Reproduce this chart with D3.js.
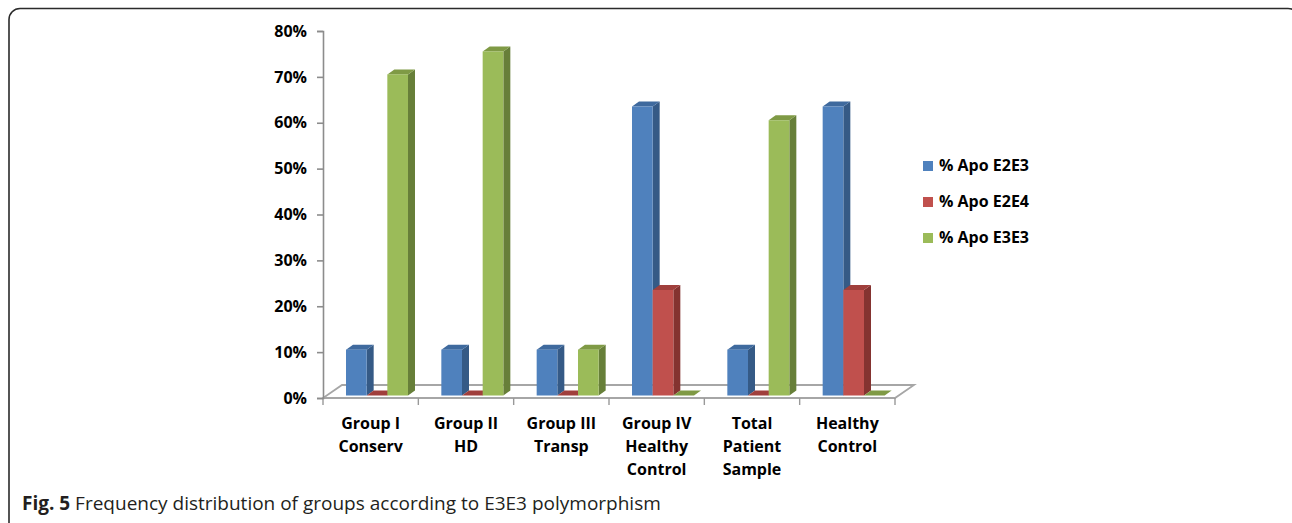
<!DOCTYPE html>
<html>
<head>
<meta charset="utf-8">
<script src="https://cdn.jsdelivr.net/npm/d3@7"></script>
<style>
  html, body { margin: 0; padding: 0; background: #fff; }
  svg { display: block; }
</style>
</head>
<body>
<svg id="chart" width="1292" height="523"></svg>
<script>
// Category labels (one entry per line of the label)
const categories = [
  ["Group I", "Conserv"],
  ["Group II", "HD"],
  ["Group III", "Transp"],
  ["Group IV", "Healthy", "Control"],
  ["Total", "Patient", "Sample"],
  ["Healthy", "Control"]
];
const seriesNames = ["% Apo E2E3", "% Apo E2E4", "% Apo E3E3"];
const apoE2E3 = [10, 10, 10, 63, 10, 63];
const apoE2E4 = [0, 0, 0, 23, 0, 23];
const apoE3E3 = [70, 75, 10, 0, 60, 0];
const yTicks = [0, 10, 20, 30, 40, 50, 60, 70, 80];
const captionBold = "Fig. 5";
const captionText = " Frequency distribution of groups according to E3E3 polymorphism";

const seriesValues = [apoE2E3, apoE2E4, apoE3E3];
const colors = {
  front: ["#4F81BD", "#C0504D", "#9BBB59"],
  top:   ["#3F6A9E", "#A03F3C", "#7F9A45"],
  side:  ["#355A86", "#843330", "#677F39"]
};

const svg = d3.select("#chart");
const font = "'Open Sans', 'Liberation Sans', sans-serif";

// Rounded frame around the figure
svg.append("rect")
  .attr("x", 9).attr("y", 8.5)
  .attr("width", 1290).attr("height", 526)
  .attr("rx", 11).attr("ry", 11)
  .attr("fill", "none").attr("stroke", "#2b2b2b").attr("stroke-width", 1.6);

// Plot geometry
const plotLeft = 323, plotRight = 895, baseY = 398, topY = 31;
const floorDx = 19, floorDy = -13;   // depth of the floor
const barDx = 7, barDy = -5;         // depth of each bar
const barShiftX = 23, barShiftY = -2.5;
const groupWidth = 62;

const x = d3.scaleBand()
  .domain(d3.range(categories.length))
  .range([plotLeft, plotRight])
  .paddingInner(0).paddingOuter(0);

const xs = d3.scaleBand()
  .domain(d3.range(seriesNames.length))
  .range([0, groupWidth]);

const y = d3.scaleLinear().domain([0, 80]).range([baseY, topY]);

// Floor
const floorPts = [
  [plotLeft, baseY], [plotRight, baseY],
  [plotRight + floorDx, baseY + floorDy], [plotLeft + floorDx, baseY + floorDy]
];
svg.append("polygon")
  .attr("points", floorPts.map(p => p.join(",")).join(" "))
  .attr("fill", "#fff")
  .attr("stroke", "#A6A6A6").attr("stroke-width", 1.8)
  .attr("stroke-linejoin", "miter");

// Category tick marks along the front edge of the floor
const bounds = d3.range(categories.length + 1).map(i =>
  i < categories.length ? x(i) : x(categories.length - 1) + x.bandwidth());
svg.append("g").selectAll("line").data(bounds).join("line")
  .attr("x1", d => d).attr("x2", d => d)
  .attr("y1", baseY).attr("y2", baseY + 7)
  .attr("stroke", "#999").attr("stroke-width", 1.4);

// Y axis
const yAxis = d3.axisLeft(y)
  .tickValues(yTicks)
  .tickFormat(d => d + "%")
  .tickSize(6).tickPadding(10);
const gy = svg.append("g")
  .attr("transform", `translate(${plotLeft},0)`)
  .call(yAxis);
gy.select(".domain").attr("stroke", "#8C8C8C").attr("stroke-width", 1.6);
gy.selectAll(".tick line").attr("stroke", "#8C8C8C").attr("stroke-width", 1.6);
gy.selectAll(".tick text")
  .attr("fill", "#000")
  .style("font-family", font)
  .style("font-size", "16px")
  .style("font-weight", "700");

// Bars: side, top, then front, drawn left to right so each front
// covers the side of its left neighbour
const bars = [];
categories.forEach((c, i) => {
  seriesValues.forEach((vals, s) => {
    bars.push({ i, s, v: vals[i] });
  });
});

const gBars = svg.append("g");
bars.forEach(b => {
  const x0 = x(b.i) + barShiftX + xs(b.s);
  const x1 = x0 + xs.bandwidth();
  const yb = y(0) + barShiftY;
  const yt = y(b.v) + barShiftY;
  const g = gBars.append("g");
  // side face
  g.append("polygon")
    .attr("points", [[x1, yb], [x1 + barDx, yb + barDy], [x1 + barDx, yt + barDy], [x1, yt]]
      .map(p => p.join(",")).join(" "))
    .attr("fill", colors.side[b.s]);
  // top face
  g.append("polygon")
    .attr("points", [[x0, yt], [x1, yt], [x1 + barDx, yt + barDy], [x0 + barDx, yt + barDy]]
      .map(p => p.join(",")).join(" "))
    .attr("fill", colors.top[b.s]);
  // front face
  if (b.v > 0) {
    g.append("rect")
      .attr("x", x0).attr("y", yt)
      .attr("width", x1 - x0).attr("height", yb - yt)
      .attr("fill", colors.front[b.s]);
  }
});

// Category labels
const gLab = svg.append("g");
categories.forEach((lines, i) => {
  const t = gLab.append("text")
    .attr("x", x(i) + x.bandwidth() / 2)
    .attr("y", 429)
    .attr("text-anchor", "middle")
    .style("font-family", font)
    .style("font-size", "16px")
    .style("font-weight", "700")
    .attr("fill", "#000");
  lines.forEach((ln, k) => {
    t.append("tspan")
      .attr("x", x(i) + x.bandwidth() / 2)
      .attr("dy", k === 0 ? 0 : 23)
      .text(ln);
  });
});

// Legend
const legend = svg.append("g").attr("transform", "translate(923,161)");
seriesNames.forEach((name, s) => {
  const g = legend.append("g").attr("transform", `translate(0,${s * 36})`);
  g.append("rect").attr("width", 10).attr("height", 10).attr("fill", colors.front[s]);
  g.append("text")
    .attr("x", 16).attr("y", 10)
    .style("font-family", font)
    .style("font-size", "16px")
    .style("font-weight", "700")
    .attr("fill", "#000")
    .text(name);
});

// Caption
const cap = svg.append("text")
  .attr("x", 22).attr("y", 510)
  .style("font-family", font)
  .style("font-size", "19px")
  .attr("fill", "#231F20");
cap.append("tspan").style("font-weight", "700").text(captionBold);
cap.append("tspan").style("font-weight", "400").text(captionText);
</script>
</body>
</html>
